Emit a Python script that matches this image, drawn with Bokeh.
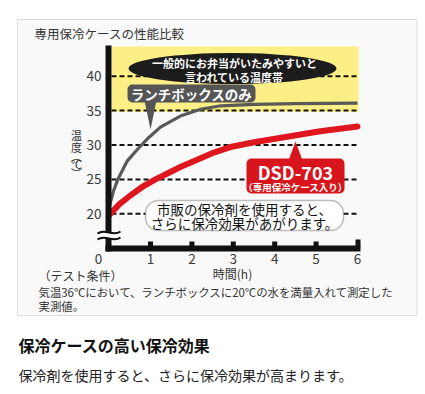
from bokeh.plotting import figure
from bokeh.models import Range1d, Label, BoxAnnotation
from bokeh.embed import file_html
from bokeh.resources import INLINE

# ---- data ----
hours_lunchbox = [0, 0.1, 0.21, 0.44, 0.72, 0.96, 1.24, 1.72, 2.21, 2.7, 3.5, 4.5, 6.0]
temp_lunchbox = [20.9, 23.2, 25.0, 27.7, 29.6, 31.1, 32.6, 34.2, 35.2, 35.7, 35.9, 36.0, 36.1]
hours_dsd = [0, 0.25, 0.52, 0.8, 1.12, 1.42, 1.72, 2.1, 2.53, 2.93, 3.5, 4.3, 5.1, 6.0]
temp_dsd = [19.8, 21.4, 22.7, 23.9, 25.0, 25.9, 26.8, 27.8, 28.9, 29.7, 30.4, 31.2, 32.0, 32.7]
x_ticks = [0, 1, 2, 3, 4, 5, 6]
y_ticks = [20, 25, 30, 35, 40]
danger_low, danger_high = 35, 44.3

FONT = "Noto Sans CJK JP"
W, H = 425, 394
OX, OY = 0, 0  # page position of the canvas

# page-pixel -> data helpers (for annotation placement only)
def X(px):
    return (px - 108.6) / 41.4

def Y(py):
    return 40 - (py - 75.7) / 6.88

p = figure(width=W, height=H, x_range=Range1d(X(OX), X(OX + W)), y_range=Range1d(Y(OY + H), Y(OY)),
           output_backend="svg", toolbar_location=None, min_border=0,
           x_axis_location=None, y_axis_location=None)
p.grid.visible = False
p.outline_line_color = None
p.background_fill_color = "white"
p.border_fill_color = "white"

# card
p.quad(left=[X(17)], right=[X(416.5)], top=[Y(19)], bottom=[Y(315)],
       fill_color="#f9f9f9", line_color="#dddddd", line_width=1)

# yellow danger band
p.quad(left=[X(111)], right=[X(358)], top=[danger_high], bottom=[danger_low - 0.15],
       fill_color="#fcef86", line_color=None)

# dashed gridlines at ticks
p.segment(x0=[X(111)] * len(y_ticks), y0=y_ticks, x1=[X(358)] * len(y_ticks), y1=y_ticks,
          line_color="#111111", line_width=2, line_dash="5 3")

# ellipse
p.ellipse(x=[X(232)], y=[Y(68)], width=[208], height=[31], width_units="screen",
          height_units="screen", fill_color="#1c1c1c", line_color=None)

# curves
p.line(hours_lunchbox, temp_lunchbox, line_color="#595959", line_width=3.2, line_join="round")
p.line(hours_dsd, temp_dsd, line_color="#e0161e", line_width=6, line_join="round", line_cap="round")

# pointer triangles
p.patch([X(144), X(156), X(150)], [Y(100), Y(100), Y(129)], fill_color="#555555", line_color=None)
p.patch([X(288), X(302), X(295)], [Y(160), Y(160), Y(141)], fill_color="#d8141c", line_color=None)

# axes (thick black)
p.quad(left=[X(105)], right=[X(111)], top=[Y(45)], bottom=[Y(251)], fill_color="#111111", line_color=None)
p.quad(left=[X(105)], right=[X(360)], top=[Y(245)], bottom=[Y(251)], fill_color="#111111", line_color=None)
p.quad(left=[t - 2.5 / 41.4 for t in x_ticks[1:-1]], right=[t + 2.5 / 41.4 for t in x_ticks[1:-1]],
       top=[Y(241)] * 5, bottom=[Y(246)] * 5, fill_color="#111111", line_color=None)
p.quad(left=[X(355)], right=[X(360)], top=[Y(239)], bottom=[Y(246)], fill_color="#111111", line_color=None)

# axis break
p.quad(left=[X(103)], right=[X(113)], top=[Y(232)], bottom=[Y(238)], fill_color="#f9f9f9", line_color=None)
p.bezier(x0=[X(97), X(97)], y0=[Y(233), Y(239)], x1=[X(120), X(120)], y1=[Y(231), Y(237)],
         cx0=[X(105), X(105)], cy0=[Y(227), Y(233)], cx1=[X(112), X(112)], cy1=[Y(237), Y(243)],
         line_color="#111111", line_width=2)

# rounded boxes
p.add_layout(BoxAnnotation(left=X(127), right=X(255), top=Y(84), bottom=Y(102),
                           fill_color="#555555", fill_alpha=1, line_color=None, border_radius=5))
p.add_layout(BoxAnnotation(left=X(246), right=X(344), top=Y(158), bottom=Y(193),
                           fill_color="#d8141c", fill_alpha=1, line_color=None, border_radius=5))
p.add_layout(BoxAnnotation(left=X(145), right=X(343), top=Y(200), bottom=Y(230),
                           fill_color="white", fill_alpha=1, line_color="#2a2a2a", line_width=1.5,
                           border_radius=13))


def lab(text, x, y, size, color, bold=False, align="center"):
    p.add_layout(Label(x=x, y=y, text=text, text_font=FONT, text_font_size=f"{size}px",
                       text_color=color, text_font_style="bold" if bold else "normal",
                       text_align=align, text_baseline="middle"))


# texts
lab("専用保冷ケースの性能比較", X(34), Y(33), 12.5, "#333333", align="left")
lab("一般的にお弁当がいたみやすいと", X(234), Y(62), 11, "white", bold=True)
lab("言われている温度帯", X(234), Y(76), 11, "white", bold=True)
lab("ランチボックスのみ", X(191), Y(93), 13.5, "white", bold=True)
lab("DSD-703", X(295), Y(171.5), 18, "white", bold=True)
lab("（専用保冷ケース入り）", X(295), Y(186), 9.5, "white", bold=True)
lab("市販の保冷剤を使用すると、", X(244), Y(208), 13.5, "#111111")
lab("さらに保冷効果があがります。", X(244), Y(222.5), 13.5, "#111111")

for t in y_ticks:
    lab(str(t), X(101), t, 13.5, "#3a3a3a", align="right")
for t in x_ticks:
    lab(str(t), t if t > 0 else X(98), Y(258), 13.5, "#3a3a3a")

for ch, py in [("温", 134), ("度", 146), ("︵", 155), ("℃", 163), ("︶", 172)]:
    lab(ch, X(76), Y(py), 11, "#333333")

lab("時間(h)", X(232), Y(273), 12, "#333333")
lab("（テスト条件）", X(38), Y(275), 12, "#333333", align="left")
lab("気温36℃において、ランチボックスに20℃の水を満量入れて測定した", X(38), Y(291), 11.4, "#333333", align="left")
lab("実測値。", X(38), Y(305), 11.4, "#333333", align="left")

lab("保冷ケースの高い保冷効果", X(18), Y(344), 16, "#111111", bold=True, align="left")
lab("保冷剤を使用すると、さらに保冷効果が高まります。", X(18), Y(374), 14, "#222222", align="left")

open("out.html", "w").write(file_html(p, INLINE))
